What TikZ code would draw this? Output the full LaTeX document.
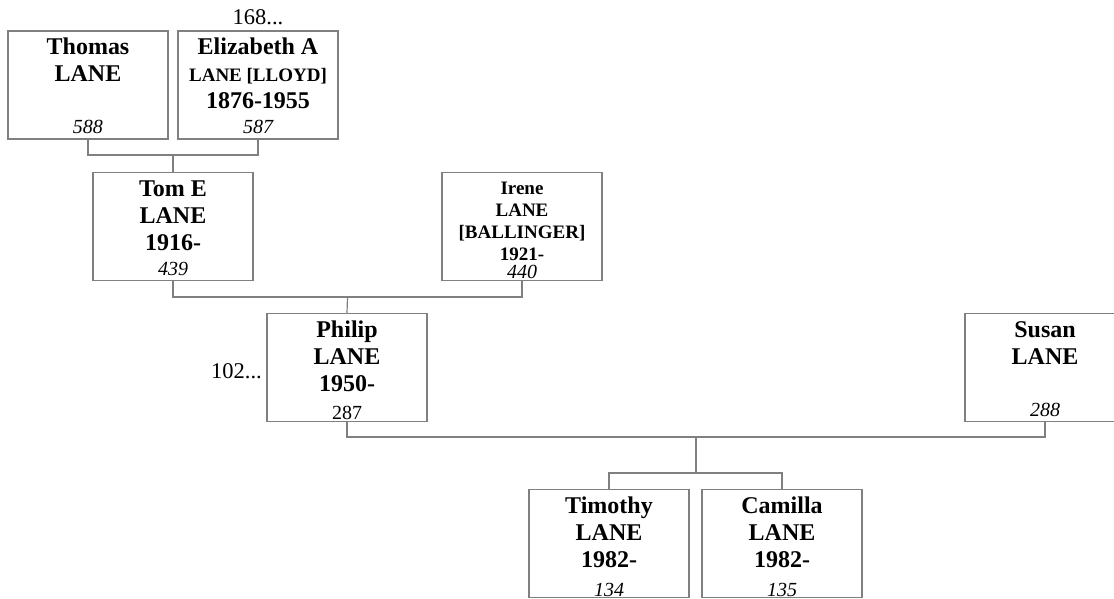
\documentclass[tikz,border=0pt]{standalone}
\usepackage{fontspec}
\setmainfont{Liberation Serif}

\definecolor{linegray}{RGB}{128,128,128}

% one person card: names on top, record number below
\newcommand{\card}[3][25]{\parbox[c][108pt][t]{160pt}{\centering{#2\par}\normalfont\fontsize{20}{#1}\selectfont #3\par}}
\newcommand{\namefont}{\fontsize{24}{27}\selectfont\bfseries\rule{0pt}{24pt}}
\newcommand{\smallname}{\fontsize{19}{22}\selectfont\bfseries}

\begin{document}
\begin{tikzpicture}[
    x=1pt, y=1pt,
    person/.style={draw=linegray, line width=1.2pt, rectangle, inner sep=0pt, minimum width=160pt, minimum height=108pt},
    link/.style={draw=linegray, line width=1.2pt},
    note/.style={inner sep=0pt, font=\fontsize{22.5}{27}\selectfont}
]
    \useasboundingbox (0, 0) rectangle (1114, -599);

    \node [person] (thomas) at (88, -85) {\card{\namefont Thomas\\LANE\\\mbox{}}{\itshape 588}};
    \node [person] (eliz) at (258, -85) {\card{\namefont Elizabeth A\\{\smallname LANE [LLOYD]}\\1876-1955}{\itshape 587}};
    \node [person] (tom) at (173, -226.5) {\card{\namefont Tom E\\LANE\\1916-}{\itshape 439}};
    \node [person] (irene) at (522, -226.5) {\card[18]{\smallname\rule{0pt}{22pt}Irene\\LANE\\{[}BALLINGER{]}\\1921-}{\itshape 440}};
    \node [person] (philip) at (347, -367.5) {\card[28]{\namefont Philip\\LANE\\1950-}{287}};
    \node [person] (susan) at (1045, -367.5) {\card{\namefont Susan\\LANE\\\mbox{}}{\itshape 288}};
    \node [person] (tim) at (609, -543.5) {\card[29]{\namefont Timothy\\LANE\\1982-}{\itshape 134}};
    \node [person] (cam) at (782, -543.5) {\card[29]{\namefont Camilla\\LANE\\1982-}{\itshape 135}};

    \node [note, anchor=base] (elizmore) at (258, -25) {168...};
    \node [note, anchor=base east] (philipmore) at (262, -378) {102...};

    % family bars
    \coordinate (fam1) at (173, -155);
    \coordinate (fam2) at (347.5, -297);
    \coordinate (fam3) at (696, -437);
    \coordinate (kids) at (696, -473);

    \draw [link] (thomas.south) |- (fam1) -| (eliz.south);
    \draw [link] (fam1) -- (tom.north);
    \draw [link] (tom.south) |- (fam2) -| (irene.south);
    \draw [link] (fam2) -- (philip.north);
    \draw [link] (philip.south) |- (fam3) -| (susan.south);
    \draw [link] (fam3) -- (kids);
    \draw [link] (tim.north) |- (kids) -| (cam.north);

\end{tikzpicture}
\end{document}
